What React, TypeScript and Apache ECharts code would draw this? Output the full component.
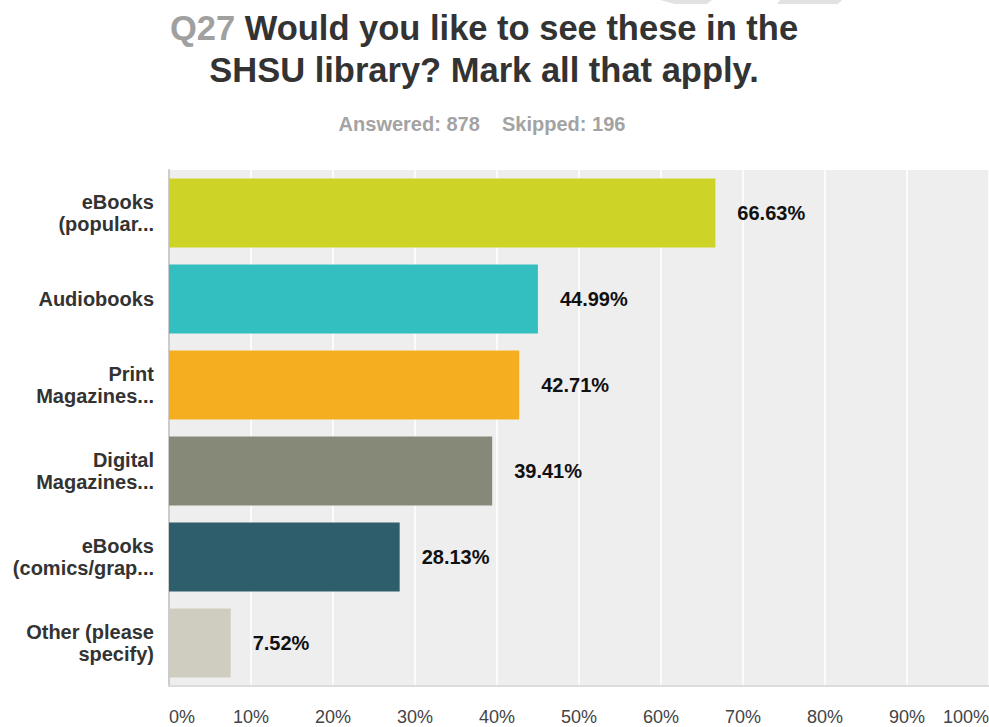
import React, { useEffect, useRef } from "react";
import * as echarts from "echarts";

const categories = [
  "eBooks\n(popular...",
  "Audiobooks",
  "Print\nMagazines...",
  "Digital\nMagazines...",
  "eBooks\n(comics/grap...",
  "Other (please\nspecify)",
];
const values = [66.63, 44.99, 42.71, 39.41, 28.13, 7.52];
const barColors = ["#CDD427", "#33BEC0", "#F5AE1F", "#868878", "#2E5E6B", "#CFCDBF"];
const titleLine1Prefix = "Q27";
const titleLine1 = "Would you like to see these in the";
const titleLine2 = "SHSU library? Mark all that apply.";
const subtitle = "Answered: 878    Skipped: 196";

export default function App() {
  const ref = useRef<HTMLDivElement>(null);
  useEffect(() => {
    if (!ref.current) return;
    const chart = echarts.init(ref.current, undefined, { renderer: "svg" });
    const font = "'Liberation Sans', Arial, Helvetica, sans-serif";
    chart.setOption({
      animation: false,
      backgroundColor: "#ffffff",
      textStyle: { fontFamily: font },
      graphic: [
        {
          type: "polygon",
          shape: { points: [[660, 0], [712, 0], [707, 4], [675, 4]] },
          style: { fill: "#e2e2e2" },
          silent: true,
        },
        {
          type: "polygon",
          shape: { points: [[780, 0], [842, 0], [838, 4], [777, 4]] },
          style: { fill: "#e2e2e2" },
          silent: true,
        },
        {
          type: "text",
          x: 484,
          y: 28,
          style: {
            text: "{q|" + titleLine1Prefix + "} {m|" + titleLine1 + "}",
            textAlign: "center",
            textVerticalAlign: "middle",
            rich: {
              q: { fill: "#a0a0a0", font: "bold 34.5px " + font },
              m: { fill: "#333333", font: "bold 34.5px " + font },
            },
            font: "bold 34.5px " + font,
            fill: "#333333",
          },
        },
        {
          type: "text",
          x: 484,
          y: 70,
          style: {
            text: titleLine2,
            textAlign: "center",
            textVerticalAlign: "middle",
            font: "bold 34.5px " + font,
            fill: "#333333",
          },
        },
        {
          type: "text",
          x: 482,
          y: 124,
          style: {
            text: subtitle,
            textAlign: "center",
            textVerticalAlign: "middle",
            font: "bold 20px " + font,
            fill: "#a3a3a3",
          },
        },
      ],
      grid: {
        left: 169,
        top: 170,
        width: 820,
        height: 516,
        show: true,
        backgroundColor: "#eeeeee",
        borderWidth: 0,
        containLabel: false,
        outerBoundsMode: "none",
      },
      xAxis: {
        type: "value",
        min: 0,
        max: 100,
        interval: 10,
        axisLine: { show: true, lineStyle: { color: "#dcdcdc", width: 2 } },
        axisTick: { show: false },
        splitLine: { show: true, lineStyle: { color: "#ffffff", width: 1.5 } },
        axisLabel: {
          formatter: "{value}%",
          fontSize: 18,
          lineHeight: 18,
          color: "#444444",
          margin: 22,
          alignMinLabel: "left",
          alignMaxLabel: "right",
          fontFamily: font,
        },
      },
      yAxis: {
        type: "category",
        data: categories,
        inverse: true,
        axisLine: { show: true, lineStyle: { color: "#cccccc", width: 2 } },
        axisTick: { show: false },
        axisLabel: {
          fontSize: 20,
          fontWeight: "bold",
          color: "#333333",
          margin: 15,
          lineHeight: 22,
          fontFamily: font,
        },
      },
      series: [
        {
          type: "bar",
          barCategoryGap: "20%",
          data: values.map((v, i) => ({ value: v, itemStyle: { color: barColors[i] } })),
          label: {
            show: true,
            position: "right",
            distance: 22,
            formatter: (p: any) => Number(p.value).toFixed(2) + "%",
            fontSize: 20,
            fontWeight: "bold",
            color: "#111111",
            fontFamily: font,
          },
        },
      ],
    });
    return () => chart.dispose();
  }, []);
  return (
    <div
      ref={ref}
      style={{ position: "fixed", left: 0, top: 0, width: 989, height: 727, background: "#fff" }}
    />
  );
}
